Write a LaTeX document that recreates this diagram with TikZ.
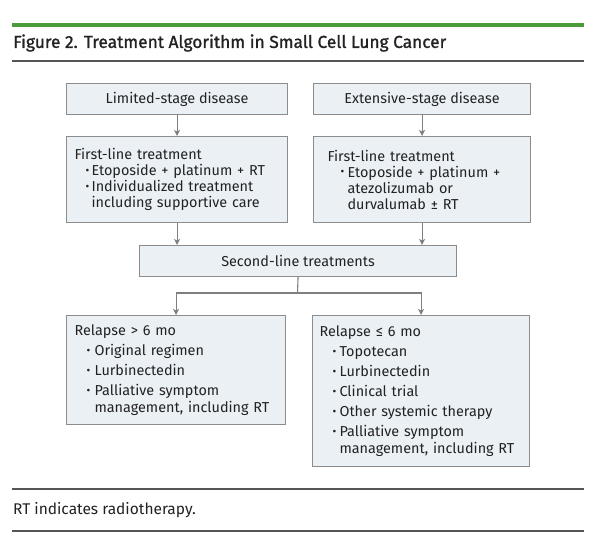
\documentclass[tikz,border=0pt]{standalone}
\usepackage{fontspec}
\setmainfont{Fira Sans}
\newfontfamily\titlefont{Fira Sans}[FakeBold=1.2]
\usetikzlibrary{arrows.meta}
\definecolor{boxfill}{HTML}{EBF0F5}
\definecolor{boxline}{HTML}{8C8C8C}
\definecolor{arrowc}{HTML}{7F7F7F}
\definecolor{jgreen}{HTML}{4B9B3C}
\definecolor{rulec}{HTML}{555555}
\definecolor{txt}{HTML}{222222}
\def\boff{11pt}\def\bwid{6pt}
\newcommand{\bitem}[1]{\par\noindent\hspace*{\boff}\makebox[\bwid][l]{\raisebox{0.15ex}{\scalebox{0.8}{\textbullet}}}#1}
\newcommand{\cont}{\newline\hspace*{\dimexpr\boff+\bwid\relax}}
\begin{document}
\begin{tikzpicture}[x=1pt,y=-1pt,
  box/.style={draw=boxline, fill=boxfill, line width=1.1pt, rectangle, anchor=north west,
    inner sep=0pt, text=txt, font=\fontsize{14.4}{16}\selectfont},
  listbox/.style={box, align=left, inner ysep=0pt},
  arr/.style={draw=arrowc, line width=1.1pt, -{Stealth[length=6pt,width=6pt,inset=1.5pt]}},
  plain/.style={draw=arrowc, line width=1.1pt},
  rulel/.style={draw=rulec, line width=1.3pt}]
\useasboundingbox[fill=white] (0,0) rectangle (593,539);
\draw[jgreen, line width=3.5pt] (12,25) -- (584,25);
\draw[rulel] (12,61) -- (584,61);
\draw[rulel] (12,489) -- (584,489);
\draw[rulel] (12,531) -- (584,531);
\node[anchor=west, inner sep=0pt, text=txt, font=\fontsize{17.3}{19}\selectfont\titlefont] (title) at (13,43) {Figure 2. Treatment Algorithm in Small Cell Lung Cancer};
\node[anchor=west, inner sep=0pt, text=txt, font=\fontsize{15.5}{17}\selectfont] (note) at (13,510) {RT indicates radiotherapy.};

\node[box, minimum width=221pt, minimum height=31pt] (lim) at (66,83) {Limited-stage disease};
\node[box, minimum width=217pt, minimum height=31pt] (ext) at (313,83) {Extensive-stage disease};

\node[listbox, minimum width=221pt, minimum height=86pt, text width=205pt, inner xsep=8pt] (fl1) at (66,136)
  {\def\boff{11pt}\def\bwid{6pt}First-line treatment\bitem{Etoposide + platinum + RT}\bitem{Individualized treatment\cont including supportive care}};
\node[listbox, minimum width=217pt, minimum height=86pt, text width=189pt, inner xsep=14pt] (fl2) at (313,136)
  {\def\boff{13pt}\def\bwid{7pt}First-line treatment\bitem{Etoposide + platinum +\cont atezolizumab or\cont durvalumab ± RT}};

\node[box, minimum width=317pt, minimum height=31pt] (sl) at (139,245) {Second-line treatments};

\node[listbox, minimum width=219pt, minimum height=109pt, text width=203pt, inner xsep=8pt, font=\fontsize{14.4}{17}\selectfont] (r1) at (66,315)
  {\setlength{\parskip}{3pt}\def\boff{12pt}\def\bwid{8pt}Relapse > 6 mo\bitem{Original regimen}\bitem{Lurbinectedin}\bitem{Palliative symptom\cont management, including RT}};
\node[listbox, minimum width=217pt, minimum height=151pt, text width=203pt, inner xsep=7pt, font=\fontsize{14.4}{17}\selectfont] (r2) at (312,315)
  {\setlength{\parskip}{3pt}\def\boff{13pt}\def\bwid{7pt}Relapse ≤ 6 mo\bitem{Topotecan}\bitem{Lurbinectedin}\bitem{Clinical trial}\bitem{Other systemic therapy}\bitem{Palliative symptom\cont management, including RT}};

\draw[arr] (lim.south) -- (fl1.north);
\draw[arr] (ext.south) -- (fl2.north);
\draw[arr] (fl1.south) -- (fl1.south |- sl.north);
\draw[arr] (fl2.south) -- (fl2.south |- sl.north);
\coordinate (split) at (297.5,293);
\draw[plain] (sl.south) -- (split);
\draw[arr] (split) -| (r1.north);
\draw[arr] (split) -| (r2.north);
\end{tikzpicture}
\end{document}
